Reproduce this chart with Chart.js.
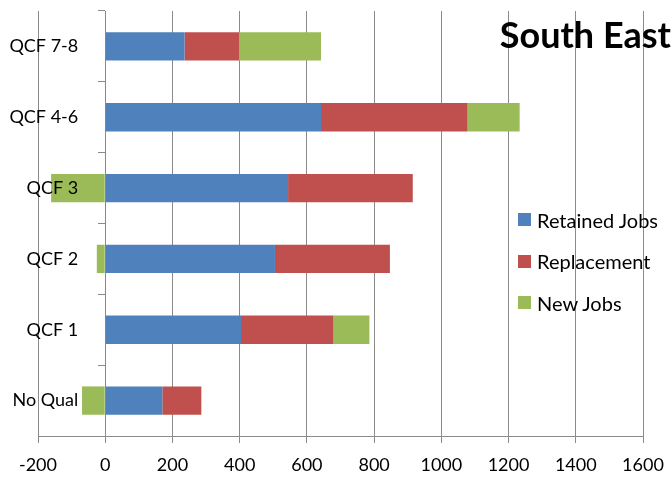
<!DOCTYPE html>
<html>
<head>
<meta charset="utf-8">
<title>South East</title>
<script src="https://cdn.jsdelivr.net/npm/chart.js@4/dist/chart.umd.min.js"></script>
<style>
  html, body { margin: 0; padding: 0; background: #fff; }
  #wrap { position: relative; width: 671px; height: 479px; overflow: hidden; }
  #title {
    position: absolute; right: 0; top: 16px;
    font: bold 36px Lato, sans-serif; line-height: 1; color: #000;
  }
  #legend { position: absolute; left: 518px; top: 199px; font: 20px Lato, sans-serif; line-height: 1; color: #000; }
  #legend .item { height: 41.5px; display: flex; align-items: center; }
  #legend .box { width: 13px; height: 13px; margin-right: 6px; }
</style>
</head>
<body>
<div id="wrap">
  <canvas id="chart" width="671" height="479"></canvas>
  <div id="title">South East</div>
  <div id="legend"></div>
</div>
<script>
// categories top to bottom
const categories = ['QCF 7-8', 'QCF 4-6', 'QCF 3', 'QCF 2', 'QCF 1', 'No Qual'];
const retainedJobs = [236, 642, 544, 505, 404, 170];
const replacement = [162, 436, 371, 342, 275, 116];
const newJobs = [244, 155, -161, -25, 107, -69];

const X_MIN = -200;
const X_MAX = 1600;
const X_STEP = 200;

const COLORS = {
  retained: '#4F81BD',
  replacement: '#C0504D',
  newJobs: '#9BBB59',
  grid: '#8a8a8a',
};

const FONT = { family: 'Lato', size: 18 };

// the y axis sits at x = 0, its labels keep a gap to the axis line
const LABEL_GAP = '\u2003\u2002\u2009\u2009';

const datasets = [
  { label: 'Retained Jobs', data: retainedJobs, backgroundColor: COLORS.retained },
  { label: 'Replacement', data: replacement, backgroundColor: COLORS.replacement },
  { label: 'New Jobs', data: newJobs, backgroundColor: COLORS.newJobs },
].map(d => ({ ...d, borderWidth: 0, categoryPercentage: 1, barPercentage: 0.4 }));

const chart = new Chart(document.getElementById('chart'), {
  type: 'bar',
  data: { labels: categories, datasets },
  options: {
    indexAxis: 'y',
    responsive: false,
    animation: false,
    layout: { padding: { left: 38, right: 28, top: 11, bottom: 0 } },
    plugins: { legend: { display: false }, tooltip: { enabled: false } },
    scales: {
      x: {
        type: 'linear',
        stacked: true,
        min: X_MIN,
        max: X_MAX,
        ticks: { stepSize: X_STEP, color: '#000', font: FONT, padding: 11, format: { useGrouping: false } },
        grid: { color: COLORS.grid, tickLength: 7 },
        border: { color: COLORS.grid },
        afterFit(scale) {
          // fixed axis band; side room comes from layout padding only
          scale.height = 43;
          scale.paddingLeft = 0;
          scale.paddingRight = 0;
        },
      },
      y: {
        stacked: true,
        position: { x: 0 },
        ticks: {
          z: 1, color: '#000', font: FONT, padding: 0,
          callback(value) { return this.getLabelForValue(value) + LABEL_GAP; },
        },
        grid: { drawOnChartArea: false, offset: true, tickLength: 7, color: COLORS.grid },
        border: { color: COLORS.grid },
      },
    },
  },
});

// legend built from the datasets
document.getElementById('legend').innerHTML = chart.data.datasets.map(d => `
  <div class="item"><span class="box" style="background:${d.backgroundColor}"></span>${d.label}</div>
`).join('');
</script>
</body>
</html>
